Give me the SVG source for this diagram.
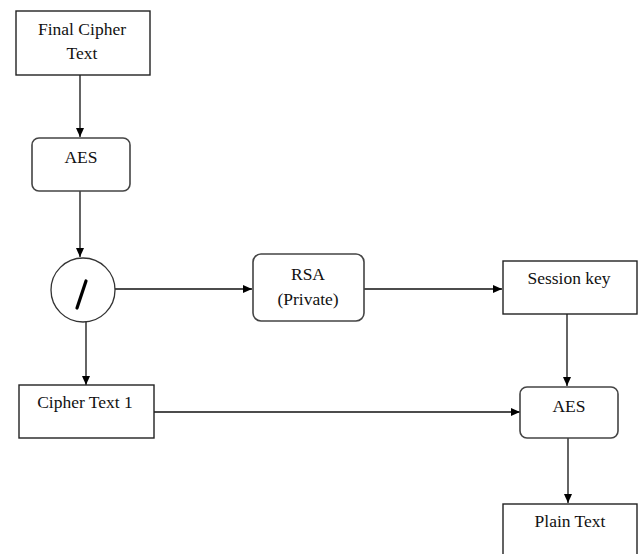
<svg xmlns="http://www.w3.org/2000/svg" width="640" height="554" viewBox="0 0 640 554">
<style>
.box{fill:#fff;stroke:#222;stroke-width:1.4}
.rbox{fill:#fff;stroke:#444;stroke-width:1.6}
.lbl{font-family:"Liberation Serif","Times New Roman",serif;font-size:17.5px;fill:#111;text-anchor:middle}
.edge{fill:none;stroke:#111;stroke-width:1.3}
</style>
<defs>
<marker id="arr" markerWidth="10" markerHeight="10" refX="9" refY="5" orient="auto" markerUnits="userSpaceOnUse">
<path d="M0,1 L9,5 L0,9 Z" fill="#000"/>
</marker>
</defs>
<rect width="640" height="554" fill="#fff"/>
<g id="connectors">
<line class="edge" x1="80" y1="75" x2="80" y2="137" marker-end="url(#arr)"/>
<line class="edge" x1="80" y1="191" x2="80" y2="257" marker-end="url(#arr)"/>
<line class="edge" x1="115" y1="289" x2="252" y2="289" marker-end="url(#arr)"/>
<line class="edge" x1="364" y1="289" x2="502" y2="289" marker-end="url(#arr)"/>
<line class="edge" x1="86" y1="322" x2="86" y2="385" marker-end="url(#arr)"/>
<line class="edge" x1="567" y1="314" x2="567" y2="386" marker-end="url(#arr)"/>
<line class="edge" x1="154" y1="412" x2="520" y2="412" marker-end="url(#arr)"/>
<line class="edge" x1="568" y1="438" x2="568" y2="503" marker-end="url(#arr)"/>
</g>
<g id="final-cipher-text">
<rect class="box" x="16" y="11" width="134" height="64"/>
<text class="lbl" x="82" y="35">Final Cipher</text>
<text class="lbl" x="82" y="59">Text</text>
</g>
<g id="aes1">
<rect class="rbox" x="32" y="138" width="98" height="53" rx="7"/>
<text class="lbl" x="81" y="163">AES</text>
</g>
<g id="split">
<circle cx="83" cy="290" r="32" fill="#fff" stroke="#333" stroke-width="1.3"/>
<line x1="77" y1="308" x2="86" y2="281" stroke="#000" stroke-width="3.2" stroke-linecap="round"/>
</g>
<g id="rsa">
<rect class="rbox" x="253" y="254" width="111" height="67" rx="8"/>
<text class="lbl" x="308" y="280">RSA</text>
<text class="lbl" x="308" y="305">(Private)</text>
</g>
<g id="session-key">
<rect class="box" x="503" y="261" width="134" height="53"/>
<text class="lbl" x="569" y="284">Session key</text>
</g>
<g id="cipher-text-1">
<rect class="box" x="19" y="385" width="135" height="53"/>
<text class="lbl" x="85" y="408">Cipher Text 1</text>
</g>
<g id="aes2">
<rect class="rbox" x="520" y="387" width="98" height="51" rx="7"/>
<text class="lbl" x="569" y="412">AES</text>
</g>
<g id="plain-text">
<rect class="box" x="503" y="504" width="134" height="60"/>
<text class="lbl" x="570" y="527">Plain Text</text>
</g>
</svg>
